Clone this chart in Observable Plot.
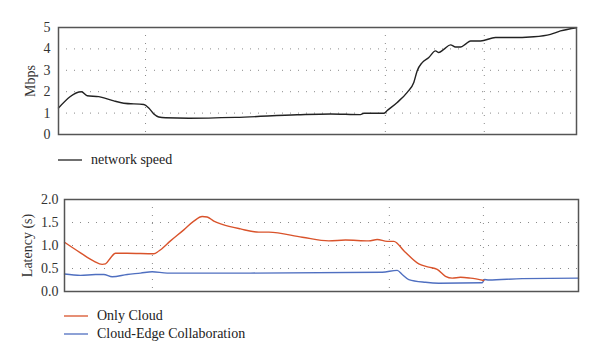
<!DOCTYPE html>
<html><head><meta charset="utf-8">
<script src="https://cdn.jsdelivr.net/npm/d3@7"></script>
<script src="https://cdn.jsdelivr.net/npm/@observablehq/plot@0.6"></script>
<style>
body{margin:0;background:#fff;font-family:"Liberation Serif",serif;}
#wrap{position:relative;width:600px;height:364px;overflow:hidden;}
.chart{position:absolute;left:0;}
.leg{position:absolute;font-size:14px;color:#222;display:flex;align-items:center;white-space:nowrap;}
.leg svg{margin-right:9px;}
</style></head><body>
<div id="wrap">
  <div id="topChart" class="chart" style="top:0"></div>
  <div id="bottomChart" class="chart" style="top:180px"></div>
  <div class="leg" style="left:58px;top:152px"><svg width="24" height="4"><line x1="0" x2="24" y1="2" y2="2" stroke="#222" stroke-width="1.3"/></svg>network speed</div>
  <div class="leg" style="left:64px;top:308px"><svg width="24" height="4"><line x1="0" x2="24" y1="2" y2="2" stroke="#d9532b" stroke-width="1.3"/></svg>Only Cloud</div>
  <div class="leg" style="left:64px;top:326px"><svg width="24" height="4"><line x1="0" x2="24" y1="2" y2="2" stroke="#4f6fc0" stroke-width="1.3"/></svg>Cloud-Edge Collaboration</div>
</div>
<script>
// time (relative, 0..100) and values
const speedT = [0,4.44,5.54,7.78,9.07,10.68,12.61,16.47,17.43,18.40,19.36,20.66,25.15,34.17,46.08,52.51,58.3,58.94,62.8,63.46,65.39,67.32,68.59,69.25,70.21,71.49,72.78,73.42,74.38,75.68,76.64,77.61,78.57,79.54,81.47,84.36,87.26,91.76,94.98,96.91,100];
const speedV = [1.24,2.0,1.81,1.77,1.69,1.57,1.46,1.40,1.24,0.96,0.82,0.78,0.76,0.80,0.92,0.96,0.93,0.99,0.99,1.12,1.50,1.97,2.43,2.98,3.36,3.60,3.91,3.83,3.98,4.19,4.09,4.09,4.22,4.37,4.37,4.53,4.53,4.57,4.68,4.84,4.99];

const cloudT = [0,3.11,5.70,7.33,7.98,8.95,9.92,12.20,17.37,18.35,20.62,23.21,25.16,26.79,27.76,29.05,30.68,34.24,37.80,39.75,46.25,51.42,54.67,59.20,60.84,62.78,64.07,66.15,68.93,70.87,72.51,74.12,75.43,77.04,78.99,81.58];
const cloudV = [1.07,0.84,0.66,0.59,0.60,0.73,0.83,0.83,0.82,0.88,1.10,1.34,1.53,1.63,1.62,1.53,1.46,1.36,1.29,1.29,1.18,1.10,1.12,1.10,1.13,1.09,1.09,0.87,0.60,0.53,0.48,0.33,0.29,0.31,0.29,0.24];

const edgeT = [0,3.11,6.03,7.65,9.28,12.20,14.79,17.06,19.98,36.19,61.81,64.73,65.70,66.98,70.23,72.82,81.26,81.71,82.55,89.05,100];
const edgeV = [0.38,0.35,0.37,0.37,0.32,0.37,0.40,0.43,0.40,0.40,0.42,0.46,0.37,0.26,0.20,0.18,0.19,0.26,0.25,0.28,0.29];

const gridXTop = [16.8,63.1,82.2];
const gridXBottom = [17.1,63.2,81.5];
const speedTicks = [0,1,2,3,4,5];
const latencyTicks = [0,0.5,1.0,1.5,2.0];

const speed = speedT.map((t,i)=>({t, v:speedV[i]}));
const cloud = cloudT.map((t,i)=>({t, v:cloudV[i]}));
const edge = edgeT.map((t,i)=>({t, v:edgeV[i]}));

const dash = "1,7";
const gridColor = "#8a8a8a";

const topPlot = Plot.plot({
  width: 600, height: 146,
  marginLeft: 58, marginRight: 24, marginTop: 27, marginBottom: 12,
  style: {fontFamily: "Liberation Serif, serif", fontSize: "14px", color: "#333", background: "transparent"},
  x: {domain: [0,100], axis: null},
  y: {domain: [0,5]},
  marks: [
    Plot.gridY([1,2,3,4], {stroke: gridColor, strokeOpacity: 1, strokeDasharray: dash}),
    Plot.ruleX(gridXTop, {stroke: gridColor, strokeDasharray: dash}),
    Plot.axisY(speedTicks, {tickSize: 0, tickPadding: 8, label: "Mbps", labelAnchor: "center", labelArrow: "none", labelOffset: 33, fontSize: 14}),
    Plot.line(speed, {x: "t", y: "v", stroke: "#222", strokeWidth: 1.4, curve: "monotone-x"}),
    Plot.frame({stroke: "#555", strokeWidth: 1.5})
  ]
});
document.getElementById("topChart").appendChild(topPlot);

const bottomPlot = Plot.plot({
  width: 600, height: 134,
  marginLeft: 64, marginRight: 22, marginTop: 19, marginBottom: 23,
  style: {fontFamily: "Liberation Serif, serif", fontSize: "14px", color: "#333", background: "transparent"},
  x: {domain: [0,100], axis: null},
  y: {domain: [0,2]},
  marks: [
    Plot.gridY([0.5,1.0,1.5], {stroke: gridColor, strokeOpacity: 1, strokeDasharray: dash}),
    Plot.ruleX(gridXBottom, {stroke: gridColor, strokeDasharray: dash}),
    Plot.axisY(latencyTicks, {tickSize: 0, tickPadding: 6, tickFormat: d3.format(".1f"), label: "Latency (s)", labelAnchor: "center", labelArrow: "none", labelOffset: 42, fontSize: 14}),
    Plot.line(edge, {x: "t", y: "v", stroke: "#4f6fc0", strokeWidth: 1.4, curve: "monotone-x"}),
    Plot.line(cloud, {x: "t", y: "v", stroke: "#d9532b", strokeWidth: 1.4, curve: "monotone-x"}),
    Plot.frame({stroke: "#555", strokeWidth: 1.5})
  ]
});
document.getElementById("bottomChart").appendChild(bottomPlot);
</script>
</body></html>
